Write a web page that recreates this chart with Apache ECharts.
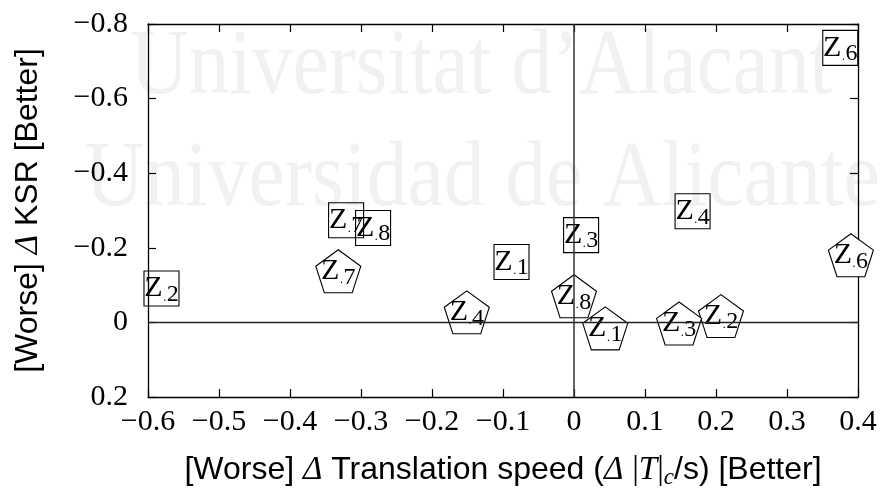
<!DOCTYPE html>
<html>
<head>
<meta charset="utf-8">
<script src="https://cdn.jsdelivr.net/npm/echarts@6/dist/echarts.min.js"></script>
<style>
  html, body { margin: 0; padding: 0; background: #fff; }
  #chart { width: 882px; height: 488px; }
</style>
</head>
<body>
<div id="chart"></div>
<script>
// Zone markers drawn as squares (KSR vs translation speed deltas)
const squareNames = ['1', '2', '3', '4', '6', '7', '8'];
const squareX = [-0.088, -0.581, 0.010, 0.167, 0.375, -0.321, -0.283];
const squareY = [-0.162, -0.091, -0.234, -0.298, -0.736, -0.274, -0.253];

// Zone markers drawn as pentagons
const pentNames = ['1', '2', '3', '4', '6', '7', '8'];
const pentX = [0.044, 0.207, 0.148, -0.151, 0.390, -0.332, 0.000];
const pentY = [0.016, -0.017, 0.003, -0.027, -0.180, -0.137, -0.070];

// Axis tick values
const xTicks = [-0.6, -0.5, -0.4, -0.3, -0.2, -0.1, 0, 0.1, 0.2, 0.3, 0.4];
const yTicks = [-0.8, -0.6, -0.4, -0.2, 0, 0.2];

const watermarkLines = ['Universitat d\u2019Alacant', 'Universidad de Alicante'];

const SERIF = '"Liberation Serif", "Times New Roman", serif';
const SANS = '"Liberation Sans", Arial, sans-serif';

function tickText(v) {
  const r = Math.round(v * 10) / 10;
  if (r === 0) return '0';
  return (r < 0 ? '\u2212' : '') + Math.abs(r).toString();
}

const pentagon = 'path://M50 0 L97.55 34.55 L79.39 90.45 L20.61 90.45 L2.45 34.55 Z';

const markerRich = {
  z: { fontFamily: SERIF, fontSize: 30, lineHeight: 36, color: '#000' },
  d: { fontFamily: SERIF, fontSize: 12, lineHeight: 22, verticalAlign: 'bottom', color: '#000' },
  s: { fontFamily: SERIF, fontSize: 24, lineHeight: 22, verticalAlign: 'bottom', color: '#000' }
};

function zipPoints(xs, ys, names) {
  return xs.map((x, i) => ({ value: [x, ys[i]], name: names[i] }));
}

const baseX = {
  type: 'value',
  min: xTicks[0],
  max: xTicks[xTicks.length - 1],
  interval: 0.1,
  splitLine: { show: false },
  axisLine: { show: true, onZero: false, lineStyle: { color: '#000', width: 1.3 } },
  axisTick: { show: true, inside: true, length: 8, lineStyle: { color: '#000', width: 1.2 } }
};
const baseY = {
  type: 'value',
  inverse: true,
  min: yTicks[0],
  max: yTicks[yTicks.length - 1],
  interval: 0.2,
  splitLine: { show: false },
  axisLine: { show: true, onZero: false, lineStyle: { color: '#000', width: 1.3 } },
  axisTick: { show: true, inside: true, length: 8, lineStyle: { color: '#000', width: 1.2 } }
};

const chart = echarts.init(document.getElementById('chart'), null, { renderer: 'canvas' });

chart.setOption({
  animation: false,
  backgroundColor: '#fff',
  grid: { left: 148, right: 24, top: 24, bottom: 91, containLabel: false, outerBoundsMode: 'none' },
  graphic: [
    {
      type: 'text', x: 130, y: 68, scaleX: 0.865, z: -10, silent: true,
      style: { text: watermarkLines[0], font: '94px ' + SERIF, fill: '#f1f1f1', verticalAlign: 'middle' }
    },
    {
      type: 'text', x: 85, y: 180, scaleX: 0.87, z: -10, silent: true,
      style: { text: watermarkLines[1], font: '94px ' + SERIF, fill: '#f1f1f1', verticalAlign: 'middle' }
    }
  ],
  xAxis: [
    Object.assign({}, baseX, {
      position: 'bottom',
      axisLabel: {
        show: true, margin: 10, fontFamily: SERIF, fontSize: 30, color: '#000',
        formatter: tickText
      },
      name: '[Worse] {i|\u0394} Translation speed ({i|\u0394} {b||}{i|T}{b||}{sub|c}/s) [Better]',
      nameLocation: 'middle',
      nameGap: 54,
      nameTextStyle: {
        fontFamily: SANS, fontSize: 32, color: '#000', lineHeight: 38,
        rich: {
          i: { fontFamily: SERIF, fontStyle: 'italic', fontSize: 33, color: '#000' },
          b: { fontFamily: SERIF, fontSize: 33, color: '#000' },
          sub: { fontFamily: SERIF, fontStyle: 'italic', fontSize: 23, lineHeight: 18, verticalAlign: 'bottom', color: '#000' }
        }
      }
    }),
    Object.assign({}, baseX, { position: 'top', axisLabel: { show: false } })
  ],
  yAxis: [
    Object.assign({}, baseY, {
      position: 'left',
      axisLabel: {
        show: true, margin: 20, fontFamily: SERIF, fontSize: 30, color: '#000',
        formatter: tickText
      },
      name: '[Worse] {i|\u0394} KSR [Better]',
      nameLocation: 'middle',
      nameGap: 101,
      nameRotate: 90,
      nameTextStyle: {
        fontFamily: SANS, fontSize: 32, color: '#000', lineHeight: 38,
        rich: {
          i: { fontFamily: SERIF, fontStyle: 'italic', fontSize: 33, color: '#000' }
        }
      }
    }),
    Object.assign({}, baseY, { position: 'right', axisLabel: { show: false } })
  ],
  series: [
    {
      // horizontal reference line at y = 0, drawn below the pentagons
      type: 'scatter',
      xAxisIndex: 0, yAxisIndex: 0,
      data: [],
      z: 1,
      markLine: {
        silent: true, symbol: 'none', animation: false,
        label: { show: false },
        lineStyle: { color: '#222', width: 1.3, type: 'solid' },
        data: [{ yAxis: 0 }]
      }
    },
    {
      type: 'scatter',
      name: 'pentagons',
      xAxisIndex: 0, yAxisIndex: 0,
      z: 3,
      symbol: pentagon,
      symbolSize: [45, 43],
      itemStyle: { color: '#fff', borderColor: '#000', borderWidth: 1.1, opacity: 1 },
      label: {
        show: true, position: 'inside',
        formatter: p => '{z|Z}{d|\u00b7}{s|' + p.name + '}',
        rich: markerRich
      },
      data: zipPoints(pentX, pentY, pentNames)
    },
    {
      type: 'scatter',
      name: 'squares',
      xAxisIndex: 0, yAxisIndex: 0,
      z: 4,
      symbol: 'rect',
      symbolSize: [35, 35],
      itemStyle: { color: 'rgba(255,255,255,0)', borderColor: '#000', borderWidth: 1.1, opacity: 1 },
      label: {
        show: true, position: 'inside',
        formatter: p => '{z|Z}{d|\u00b7}{s|' + p.name + '}',
        rich: markerRich
      },
      markLine: {
        silent: true, symbol: 'none', animation: false,
        label: { show: false },
        lineStyle: { color: '#333', width: 1.5, type: 'solid' },
        data: [{ xAxis: 0 }]
      },
      data: zipPoints(squareX, squareY, squareNames)
    }
  ]
});
</script>
</body>
</html>
